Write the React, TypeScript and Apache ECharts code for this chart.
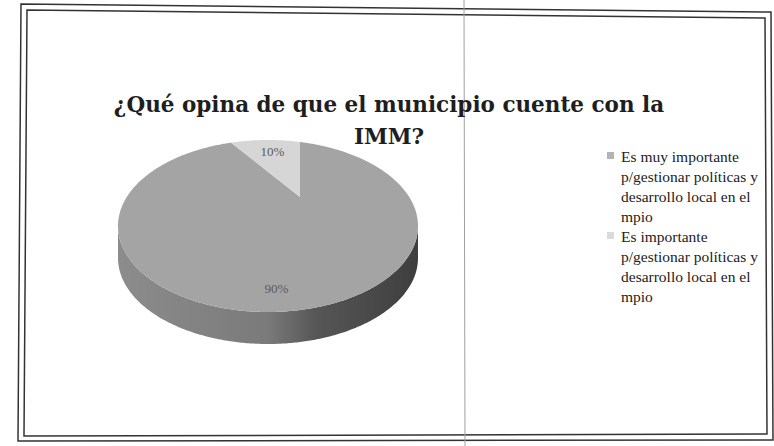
import React, { useEffect, useRef } from "react";
import * as echarts from "echarts";

const TITLE_LINES = ["¿Qué opina de que el municipio cuente con la", "IMM?"];
const CATEGORIES = [
  "Es muy importante p/gestionar políticas y desarrollo local en el mpio",
  "Es importante p/gestionar políticas y desarrollo local en el mpio",
];
const LEGEND_LINES = [
  ["Es muy importante", "p/gestionar políticas y", "desarrollo local en el", "mpio"],
  ["Es importante", "p/gestionar políticas y", "desarrollo local en el", "mpio"],
];
const SHARES = [90, 10];
const SLICE_LABELS = ["90%", "10%"];

const TOP_COLORS = ["#a4a4a4", "#d6d6d6"];
const MARKER_COLORS = ["#b4b4b4", "#dadada"];

export default function App() {
  const ref = useRef<HTMLDivElement>(null);
  useEffect(() => {
    if (!ref.current) return;
    document.body.style.margin = "0";
    const chart = echarts.init(ref.current, null, { renderer: "svg" });
    const cx = 268, cy = 226, rx = 150, ry = 86, depth = 32;
    const k = ry / rx;
    const apex = [300, 197];
    const total = SHARES.reduce((a, b) => a + b, 0);

    // point where the ray from the (perspective) centre at true angle hits the rim
    const rim = (deg: number) => {
      const r = (deg * Math.PI) / 180;
      const dx = Math.cos(r), dy = -k * Math.sin(r);
      const u = (apex[0] - cx) / rx, v = (apex[1] - cy) / ry;
      const du = dx / rx, dv = dy / ry;
      const a = du * du + dv * dv;
      const b = u * du + v * dv;
      const c = u * u + v * v - 1;
      const t = (-b + Math.sqrt(b * b - a * c)) / a;
      return [apex[0] + t * dx, apex[1] + t * dy];
    };
    const param = (p: number[]) =>
      Math.atan2(-(p[1] - cy) / ry, (p[0] - cx) / rx);

    const renderItem = (params: any, api: any) => {
      const i = params.dataIndex;
      const v = api.value(0);
      let before = 0;
      for (let q = 0; q < i; q++) before += SHARES[q];
      const start = 90 - (before / total) * 360;
      const end = start - (v / total) * 360;
      const children: any[] = [];
      const steps = Math.max(4, Math.ceil((start - end) * 2));
      const arc: number[][] = [];
      for (let s = 0; s <= steps; s++) arc.push(rim(start - ((start - end) * s) / steps));

      // visible front wall
      const front = arc.filter((p) => p[1] >= cy - 0.01);
      if (front.length > 1) {
        const bot = front.map((p) => [p[0], p[1] + depth]).reverse();
        children.push({
          type: "polygon",
          shape: { points: front.concat(bot) },
          style: {
            fill: new echarts.graphic.LinearGradient(0, 0, 1, 0, [
              { offset: 0, color: "#8c8c8c" },
              { offset: 0.5, color: "#7a7a7a" },
              { offset: 0.66, color: "#565656" },
              { offset: 1, color: "#3e3e3e" },
            ]),
          },
        });
      }
      // top face
      children.push({
        type: "polygon",
        shape: { points: [apex].concat(arc) },
        style: { fill: TOP_COLORS[i] },
      });
      // label: halfway (in rim parameter) between the slice edges
      let p0 = param(arc[0]);
      let p1 = param(arc[arc.length - 1]);
      while (p1 >= p0) p1 -= 2 * Math.PI;
      const pm = (p0 + p1) / 2;
      const m = [cx + rx * Math.cos(pm), cy - ry * Math.sin(pm)];
      const f = 0.8;
      children.push({
        type: "text",
        x: apex[0] + f * (m[0] - apex[0]),
        y: apex[1] + f * (m[1] - apex[1]),
        style: {
          text: SLICE_LABELS[i],
          fill: "#5a5a5a",
          font: "13px 'Liberation Serif'",
          align: "center",
          verticalAlign: "middle",
        },
      });
      return { type: "group", children };
    };

    const graphic: any[] = [
      {
        type: "polygon",
        shape: { points: [[21, 4], [771, 12], [773, 440], [18, 441]] },
        style: { fill: "none", stroke: "#333", lineWidth: 1.5 },
      },
      {
        type: "polygon",
        shape: { points: [[27, 10], [765, 18], [767, 434], [24, 436]] },
        style: { fill: "none", stroke: "#333", lineWidth: 1.5 },
      },
      {
        type: "line",
        shape: { x1: 464, y1: 0, x2: 465, y2: 446 },
        style: { stroke: "#a0a0a0", lineWidth: 1 },
      },
    ];
    TITLE_LINES.forEach((t, q) => {
      graphic.push({
        type: "text",
        x: 389,
        y: 104 + q * 32,
        style: {
          text: t,
          fill: "#1e1e1e",
          font: "bold 21.5px 'DejaVu Serif'",
          align: "center",
          verticalAlign: "middle",
        },
      });
    });
    LEGEND_LINES.forEach((lines, q) => {
      const y0 = 156 + q * 80;
      graphic.push({
        type: "rect",
        shape: { x: 607, y: y0 - 4, width: 7, height: 7 },
        style: { fill: MARKER_COLORS[q] },
      });
      lines.forEach((ln, j) => {
        graphic.push({
          type: "text",
          x: 621,
          y: y0 + j * 20,
          style: {
            text: ln,
            fill: "#222",
            font: "15.5px 'Liberation Serif'",
            align: "left",
            verticalAlign: "middle",
          },
        });
      });
    });

    chart.setOption({
      animation: false,
      backgroundColor: "#ffffff",
      graphic,
      series: [
        {
          type: "custom",
          name: "IMM",
          coordinateSystem: "none",
          renderItem,
          data: SHARES.map((v, i) => ({ name: CATEGORIES[i], value: [v] })),
          silent: true,
        },
      ],
    });
    return () => chart.dispose();
  }, []);
  return <div ref={ref} style={{ width: 774, height: 446 }} />;
}
